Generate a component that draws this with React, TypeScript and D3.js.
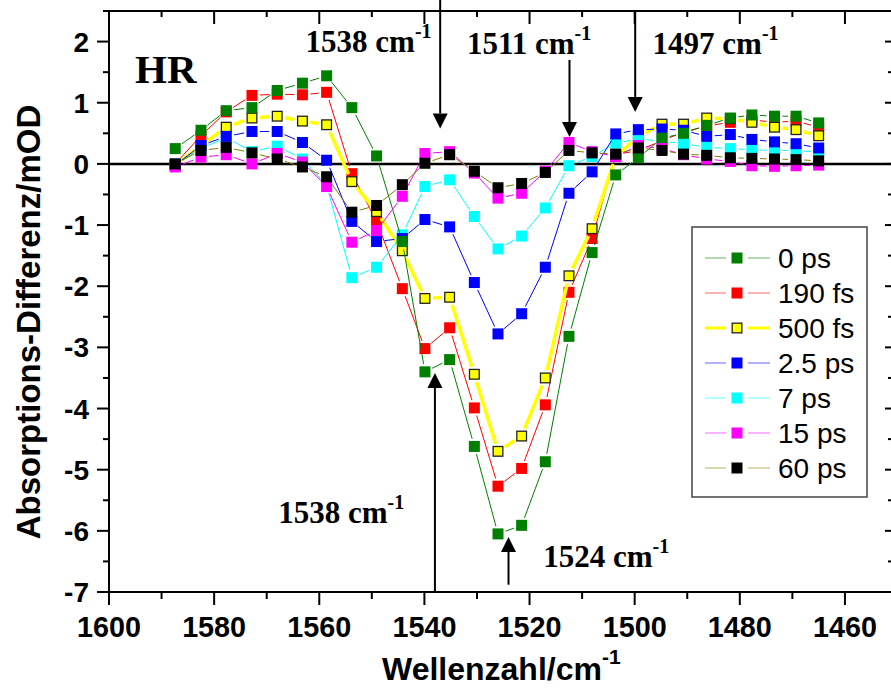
import React from 'react';
import * as d3 from 'd3';

// Wavenumber grid of the measured points (cm^-1)
const wavenumbers = [1587.4, 1582.5, 1577.7, 1572.8, 1568.0, 1563.2, 1558.6, 1553.8, 1549.1, 1544.2,
  1539.9, 1535.2, 1530.5, 1526.0, 1521.5, 1517.0, 1512.5, 1508.1, 1503.6, 1499.3,
  1494.8, 1490.7, 1486.3, 1481.8, 1477.7, 1473.4, 1469.3, 1465.0];

// Absorption difference (mOD) for each delay time
const d0ps = [0.25, 0.55, 0.87, 0.92, 1.20, 1.32, 1.44, 0.92, 0.13, -1.27, -3.40, -3.20, -4.62, -6.05, -5.91, -4.87, -2.82, -1.45, -0.18, 0.10, 0.42, 0.50, 0.63, 0.75, 0.80, 0.78, 0.78, 0.67];
const d190fs = [0.00, 0.46, 0.85, 1.12, 1.14, 1.13, 1.17, -0.16, -0.94, -2.04, -3.02, -2.68, -3.99, -5.27, -4.98, -3.94, -2.10, -1.22, 0.15, 0.22, 0.38, 0.52, 0.62, 0.68, 0.72, 0.68, 0.70, 0.60];
const d500fs = [-0.02, 0.30, 0.60, 0.75, 0.78, 0.70, 0.64, -0.29, -0.78, -1.42, -2.20, -2.18, -3.44, -4.70, -4.45, -3.50, -1.83, -1.06, 0.12, 0.45, 0.65, 0.65, 0.75, 0.74, 0.68, 0.60, 0.56, 0.46];
const d2_5ps = [-0.02, 0.30, 0.45, 0.53, 0.53, 0.35, 0.06, -0.94, -1.27, -1.22, -0.91, -1.03, -1.94, -2.78, -2.45, -1.69, -0.48, -0.13, 0.49, 0.56, 0.57, 0.55, 0.45, 0.48, 0.40, 0.36, 0.33, 0.26];
const d7ps = [0.00, 0.25, 0.43, 0.20, 0.29, 0.08, -0.35, -1.86, -1.69, -1.16, -0.37, -0.26, -0.86, -1.39, -1.18, -0.72, -0.03, 0.12, 0.34, 0.41, 0.37, 0.33, 0.27, 0.25, 0.23, 0.22, 0.22, 0.19];
const d15ps = [-0.05, 0.11, 0.15, 0.00, 0.17, 0.03, -0.37, -1.28, -1.09, -0.53, 0.17, 0.20, -0.15, -0.56, -0.48, -0.12, 0.35, 0.20, 0.12, 0.30, 0.25, 0.15, 0.08, 0.04, -0.03, -0.04, -0.03, -0.02];
const d60ps = [0.00, 0.22, 0.27, 0.18, 0.08, -0.05, -0.21, -0.79, -0.68, -0.34, 0.01, 0.15, -0.12, -0.39, -0.32, -0.14, 0.22, 0.18, 0.16, 0.26, 0.22, 0.16, 0.14, 0.10, 0.09, 0.08, 0.07, 0.05];

const seriesLabels = ['0 ps', '190 fs', '500 fs', '2.5 ps', '7 ps', '15 ps', '60 ps'];
const seriesValues = [d0ps, d190fs, d500fs, d2_5ps, d7ps, d15ps, d60ps];
const fillColors = ['#008000', '#ff0000', '#ffff00', '#0000ff', '#00ffff', '#ff00ff', '#000000'];
const lineColors = ['#008000', '#ff0000', '#ffff00', '#0000ff', '#00ffff', '#ff00ff', '#808000'];
const lineWidths = [1, 1, 3.5, 1, 1, 1, 1];
const markerStrokes = [null, null, '#222', null, null, null, null];
// back-to-front painting order of the series
const drawOrder = [1, 2, 4, 3, 0, 5, 6];

const xTickLabels = [1600, 1580, 1560, 1540, 1520, 1500, 1480, 1460];
const xMinorTicks = [1590, 1570, 1550, 1530, 1510, 1490, 1470];
const yTickLabels = [2, 1, 0, -1, -2, -3, -4, -5, -6, -7];
const yMinorTicks = [2.5, 1.5, 0.5, -0.5, -1.5, -2.5, -3.5, -4.5, -5.5, -6.5];

// Band annotations: arrow x position, tail and tip in data units
const arrows = [
  { wn: 1537.0, tail: 2.72, tip: 0.58 },
  { wn: 1512.4, tail: 1.70, tip: 0.44 },
  { wn: 1499.9, tail: 2.50, tip: 0.85 },
  { wn: 1538.0, tail: -7.0, tip: -3.42 },
  { wn: 1524.0, tail: -6.88, tip: -6.10 },
];
const bandLabels = [
  { text: '1538 cm', wn: 1562.6, val: 1.83 },
  { text: '1511 cm', wn: 1531.9, val: 1.80 },
  { text: '1497 cm', wn: 1496.6, val: 1.80 },
  { text: '1538 cm', wn: 1567.8, val: -5.87 },
  { text: '1524 cm', wn: 1517.4, val: -6.59 },
];

const W = 891;
const H = 688;
const LEFT = 109;
const RIGHT = 887;
const TOP = 11;
const BOTTOM = 592;
const SANS = "'Liberation Sans', Arial, sans-serif";
const SERIF = "'Liberation Serif', 'Times New Roman', serif";
const MS = 11; // marker size

export default function App() {
  const x = d3.scaleLinear().domain([1600, 1452]).range([LEFT, RIGHT]);
  const y = d3.scaleLinear().domain([-7, 2.5]).range([BOTTOM, TOP]);

  const gap = MS / 2 + 2.5;
  const segmentsFor = (vals: number[]) => {
    const segs: { x1: number; y1: number; x2: number; y2: number }[] = [];
    for (let i = 0; i < vals.length - 1; i++) {
      const ax = x(wavenumbers[i]), ay = y(vals[i]);
      const bx = x(wavenumbers[i + 1]), by = y(vals[i + 1]);
      const dx = bx - ax, dy = by - ay;
      const len = Math.hypot(dx, dy);
      if (len <= 2 * gap + 1) continue;
      const ux = dx / len, uy = dy / len;
      segs.push({ x1: ax + ux * gap, y1: ay + uy * gap, x2: bx - ux * gap, y2: by - uy * gap });
    }
    return segs;
  };

  const legendRowY = (i: number) => 258 + i * 35;

  return (
    <svg width={W} height={H} style={{ position: 'absolute', left: 0, top: 0, background: '#fff' }}>
      <rect x={0} y={0} width={W} height={H} fill="#fff" />

      {/* zero line */}
      <line x1={LEFT} x2={W} y1={y(0)} y2={y(0)} stroke="#000" strokeWidth={2.5} />

      {/* series */}
      {drawOrder.map((si) => {
        const vals = seriesValues[si];
        return (
          <g key={si}>
            {segmentsFor(vals).map((s, k) => (
              <line key={k} x1={s.x1} y1={s.y1} x2={s.x2} y2={s.y2}
                stroke={lineColors[si]} strokeWidth={lineWidths[si]} />
            ))}
            {vals.map((v, k) => {
              const st = markerStrokes[si];
              const inset = st ? 0.65 : 0;
              return (
                <rect key={k}
                  x={x(wavenumbers[k]) - MS / 2 + inset} y={y(v) - MS / 2 + inset}
                  width={MS - 2 * inset} height={MS - 2 * inset}
                  fill={fillColors[si]} stroke={st || 'none'} strokeWidth={st ? 1.3 : 0} />
              );
            })}
          </g>
        );
      })}

      {/* frame */}
      <line x1={LEFT} x2={LEFT} y1={TOP - 1} y2={BOTTOM + 1} stroke="#000" strokeWidth={2} />
      <line x1={LEFT - 1} x2={W} y1={BOTTOM} y2={BOTTOM} stroke="#000" strokeWidth={2} />
      <line x1={LEFT - 6} x2={W} y1={TOP} y2={TOP} stroke="#000" strokeWidth={2} />

      {/* bottom and top axes */}
      {xTickLabels.map((t) => (
        <g key={'xt' + t}>
          <line x1={x(t)} x2={x(t)} y1={BOTTOM} y2={BOTTOM + 13} stroke="#000" strokeWidth={2} />
          <line x1={x(t)} x2={x(t)} y1={TOP} y2={TOP + 13} stroke="#000" strokeWidth={2} />
          <text x={x(t)} y={637} textAnchor="middle" fontFamily={SANS} fontWeight="bold" fontSize={30}
            textLength={64} lengthAdjust="spacingAndGlyphs">{t}</text>
        </g>
      ))}
      {xMinorTicks.map((t) => (
        <g key={'xm' + t}>
          <line x1={x(t)} x2={x(t)} y1={BOTTOM} y2={BOTTOM + 7} stroke="#000" strokeWidth={2} />
          <line x1={x(t)} x2={x(t)} y1={TOP} y2={TOP + 6} stroke="#000" strokeWidth={2} />
        </g>
      ))}

      {/* left and right axes */}
      {yTickLabels.map((t) => (
        <g key={'yt' + t}>
          <line x1={LEFT - 12} x2={LEFT} y1={y(t)} y2={y(t)} stroke="#000" strokeWidth={2} />
          <line x1={W - 6} x2={W} y1={y(t)} y2={y(t)} stroke="#000" strokeWidth={2} />
          <text x={89} y={y(t) + 10} textAnchor="end" fontFamily={SANS} fontWeight="bold" fontSize={28}>{t}</text>
        </g>
      ))}
      {yMinorTicks.map((t) => (
        <g key={'ym' + t}>
          <line x1={LEFT - 6} x2={LEFT} y1={y(t)} y2={y(t)} stroke="#000" strokeWidth={2} />
          <line x1={W - 3} x2={W} y1={y(t)} y2={y(t)} stroke="#000" strokeWidth={2} />
        </g>
      ))}

      {/* axis titles */}
      <text x={382} y={680} fontFamily={SANS} fontWeight="bold" fontSize={32}>
        Wellenzahl/cm<tspan fontSize={21} dy={-16}>-1</tspan>
      </text>
      <text transform="translate(40,322) rotate(-90)" textAnchor="middle" fontFamily={SANS} fontWeight="bold"
        fontSize={33}>Absorptions-Differenz/mOD</text>

      {/* arrows */}
      {arrows.map((a, i) => {
        const ax = x(a.wn);
        const tipY = y(a.tip);
        const tailY = y(a.tail);
        const dir = tailY < tipY ? 1 : -1; // 1: pointing down
        const baseY = tipY - dir * 15;
        return (
          <g key={'ar' + i}>
            <line x1={ax} x2={ax} y1={tailY} y2={baseY} stroke="#000" strokeWidth={2} />
            <path d={`M${ax - 7.5},${baseY} L${ax + 7.5},${baseY} L${ax},${tipY} Z`} fill="#000" />
          </g>
        );
      })}

      {/* band labels */}
      {bandLabels.map((b, i) => (
        <text key={'bl' + i} x={x(b.wn)} y={y(b.val)} fontFamily={SERIF} fontWeight="bold" fontSize={31}>
          {b.text}<tspan fontSize={20} dy={-14}>-1</tspan>
        </text>
      ))}
      <text x={135} y={83} fontFamily={SERIF} fontWeight="bold" fontSize={41}>HR</text>

      {/* legend */}
      <rect x={692} y={227} width={175} height={270} fill="#fff" stroke="#444" strokeWidth={1.5} />
      {seriesLabels.map((lab, i) => {
        const ry = legendRowY(i);
        const st = markerStrokes[i];
        const inset = st ? 0.65 : 0;
        const thick = lineWidths[i] > 1;
        return (
          <g key={'lg' + i}>
            <line x1={705} x2={726} y1={ry} y2={ry} stroke={lineColors[i]} strokeWidth={thick ? 3 : 1} opacity={thick ? 1 : 0.6} />
            <line x1={748} x2={770} y1={ry} y2={ry} stroke={lineColors[i]} strokeWidth={thick ? 3 : 1} opacity={thick ? 1 : 0.6} />
            <rect x={737 - MS / 2 + inset} y={ry - MS / 2 + inset} width={MS - 2 * inset} height={MS - 2 * inset}
              fill={fillColors[i]} stroke={st || 'none'} strokeWidth={st ? 1.3 : 0} />
            <text x={778} y={ry + 10} fontFamily={SANS} fontSize={28}>{lab}</text>
          </g>
        );
      })}
    </svg>
  );
}
